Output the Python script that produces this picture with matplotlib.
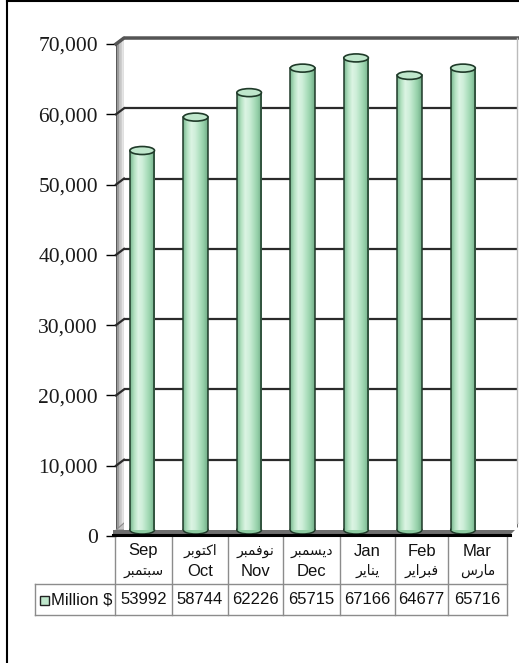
import numpy as np
import matplotlib as mpl
import matplotlib.pyplot as plt
from matplotlib.patches import Rectangle, Ellipse, Polygon
from matplotlib.colors import LinearSegmentedColormap
from matplotlib.transforms import ScaledTranslation

plt.rcParams['font.family'] = ['Liberation Serif', 'DejaVu Serif']

# data
months_en = ['Sep', 'Oct', 'Nov', 'Dec', 'Jan', 'Feb', 'Mar']
# arabic month names, written in presentation forms (visual order) so they join
months_ar = ['\ufeae\ufe92\ufee4\ufe98\ufe92\ufeb3',   # سبتمبر
             '\ufeae\ufe91\ufeee\ufe98\ufedb\ufe8d',   # اكتوبر
             '\ufeae\ufe92\ufee4\ufed3\ufeee\ufee7',   # نوفمبر
             '\ufeae\ufe92\ufee4\ufeb4\ufef3\ufea9',   # ديسمبر
             '\ufeae\ufef3\ufe8e\ufee8\ufef3',         # يناير
             '\ufeae\ufef3\ufe8d\ufeae\ufe92\ufed3',   # فبراير
             '\ufeb1\ufead\ufe8e\ufee3']               # مارس
arabic_first = [False, True, True, True, False, False, False]
values = [53992, 58744, 62226, 65715, 67166, 64677, 65716]
series_name = 'Million $'
yticks = [0, 10000, 20000, 30000, 40000, 50000, 60000, 70000]

W, H = 519, 663
fig = plt.figure(figsize=(W / 100, H / 100), dpi=100)

def fx(x):
  return x / W

def fy(y):
  return 1 - y / H

# back wall axes and front (tick) axes
aw, ah = (517 - 124) / W, (530 - 38) / H
ax = fig.add_axes([fx(124), fy(530), aw, ah], zorder=1)
axf = fig.add_axes([fx(116), fy(536), aw, ah], zorder=2)
xlim = (-0.415, 6.935)
for a in (ax, axf):
  a.set_xlim(*xlim)
  a.set_ylim(0, 70000)

ax.set_facecolor('white')
ax.set_xticks([])
ax.set_yticks([])
for s in ax.spines.values():
  s.set_visible(False)

axf.patch.set_visible(False)
axf.set_xticks([])
axf.set_yticks(yticks)
axf.yaxis.set_major_formatter(mpl.ticker.StrMethodFormatter('{x:,.0f}'))
axf.tick_params(axis='y', length=7, width=1, pad=6, color='black',
                labelsize=15.5, labelcolor='#1a1a1a')
for s in axf.spines.values():
  s.set_visible(False)

ftr = fig.transFigure

# left side wall (grey gradient strips)
wall_cols = ['#5a5a5a', '#9a9a9a', '#b8b8b8', '#cfcfcf', '#e0e0e0']
nw = len(wall_cols)
for i, c in enumerate(wall_cols):
  xa = 116 + 8 * i / nw
  xb = 116 + 8 * (i + 1) / nw
  ya_top = 44 - 6 * i / nw
  yb_top = 44 - 6 * (i + 1) / nw
  pts = [(fx(xa), fy(536 - 6 * i / nw)), (fx(xa), fy(ya_top)),
         (fx(xb), fy(yb_top)), (fx(xb), fy(536 - 6 * (i + 1) / nw))]
  fig.patches.append(Polygon(pts, closed=True, transform=ftr,
                             facecolor=c, edgecolor='none', zorder=0.5))

# gridlines on back wall plus their run over the side wall
for v in yticks[1:]:
  ax.axhline(v, color='#2b2b2b', lw=1.6, zorder=1)
  pb = fig.transFigure.inverted().transform(ax.transData.transform((xlim[0], v)))
  pf = fig.transFigure.inverted().transform(axf.transData.transform((xlim[0], v)))
  fig.lines.append(mpl.lines.Line2D([pf[0], pb[0]], [pf[1], pb[1]],
                                    transform=ftr, color='#2b2b2b', lw=1.6,
                                    zorder=3))

# wall top edge and right edge
fig.lines.append(mpl.lines.Line2D([fx(116), fx(124), fx(518)], [fy(44), fy(38), fy(38)],
                                  transform=ftr, color='#555555', lw=2.5, zorder=3))
fig.lines.append(mpl.lines.Line2D([fx(517), fx(517)], [fy(38), fy(523)],
                                  transform=ftr, color='#bbbbbb', lw=1, zorder=3))

# floor
floor = Polygon([(fx(116), fy(530)), (fx(124), fy(523)), (fx(518), fy(523)),
                 (fx(510), fy(530))], closed=True, transform=ftr,
                facecolor='#c4c4c4', edgecolor='#8a8a8a', lw=0.8, zorder=0.6)
fig.patches.append(floor)
floor_front = Polygon([(fx(113), fy(530)), (fx(510), fy(530)), (fx(518), fy(523)),
                       (fx(518), fy(527)), (fx(510), fy(535)), (fx(113), fy(535))],
                      closed=True, transform=ftr, facecolor='#6e6e6e',
                      edgecolor='none', zorder=0.6)
fig.patches.append(floor_front)
fig.lines.append(mpl.lines.Line2D([fx(113), fx(510)], [fy(535), fy(535)],
                                  transform=ftr, color='black', lw=2.2, zorder=3))

# cylinder bars
cyl = LinearSegmentedColormap.from_list(
  'cyl', ['#7ab991', '#b4e2c2', '#dcf4e4', '#cdeed8', '#b0e0c0', '#94cfa8', '#72ad88'])
grad = np.linspace(0, 1, 64).reshape(1, -1)
bw = 0.46
shift = ScaledTranslation(-4 / 100, 0, fig.dpi_scale_trans)
bar_tr = ax.transData + shift
px_per_unit = (ax.transData.transform((0, 10000))[1] - ax.transData.transform((0, 0))[1]) / 10000
eh = 8 / px_per_unit

for i, v in enumerate(values):
  x0 = i - bw / 2
  bottom = Ellipse((i, 0), bw, eh, transform=bar_tr, facecolor='#8ccaa0',
                   edgecolor='#1f3a29', lw=1.1, zorder=4, clip_on=False)
  ax.add_patch(bottom)
  im = ax.imshow(grad, cmap=cyl, aspect='auto', extent=[x0, x0 + bw, 0, v],
                 transform=bar_tr, zorder=5, interpolation='bilinear')
  body = Rectangle((x0, 0), bw, v, transform=bar_tr, facecolor='none',
                   edgecolor='none')
  ax.add_patch(body)
  im.set_clip_path(body)
  ax.plot([x0, x0], [0, v], color='#1f3a29', lw=1.1, transform=bar_tr, zorder=6)
  ax.plot([x0 + bw, x0 + bw], [0, v], color='#1f3a29', lw=1.1, transform=bar_tr, zorder=6)
  top = Ellipse((i, v), bw, eh, transform=bar_tr, facecolor='#bfe7cc',
                edgecolor='#1f3a29', lw=1.2, zorder=7)
  ax.add_patch(top)

ax.set_xlim(*xlim)
ax.set_ylim(0, 70000)

# data table below the chart
col_edges = [115, 172, 228, 283, 340, 395, 448, 507]
tcol = '#8c8c8c'
y_head_top, y_row_top, y_row_bot = 535, 584, 615
for xe in col_edges:
  fig.lines.append(mpl.lines.Line2D([fx(xe), fx(xe)], [fy(y_head_top), fy(y_row_bot)],
                                    transform=ftr, color=tcol, lw=1, zorder=2))
fig.lines.append(mpl.lines.Line2D([fx(35), fx(507)], [fy(y_row_top), fy(y_row_top)],
                                  transform=ftr, color=tcol, lw=1, zorder=2))
fig.lines.append(mpl.lines.Line2D([fx(35), fx(507)], [fy(y_row_bot), fy(y_row_bot)],
                                  transform=ftr, color=tcol, lw=1, zorder=2))
fig.lines.append(mpl.lines.Line2D([fx(35), fx(35)], [fy(y_row_top), fy(y_row_bot)],
                                  transform=ftr, color=tcol, lw=1, zorder=2))

fam = ['Liberation Sans', 'DejaVu Sans']
for i in range(len(months_en)):
  xc = fx((col_edges[i] + col_edges[i + 1]) / 2)
  if arabic_first[i]:
    top_txt, bot_txt = months_ar[i], months_en[i]
    top_size, bot_size = 10, 12
  else:
    top_txt, bot_txt = months_en[i], months_ar[i]
    top_size, bot_size = 12, 10
  fig.text(xc, fy(551), top_txt, ha='center', va='center', family=fam,
           fontsize=top_size, color='#111111')
  fig.text(xc, fy(571), bot_txt, ha='center', va='center', family=fam,
           fontsize=bot_size, color='#111111')
  fig.text(xc, fy(600), str(values[i]), ha='center', va='center',
           family='Liberation Sans', fontsize=12, color='#111111')

# legend key in the table
fig.patches.append(Rectangle((fx(40), fy(605)), 9 / W, 9 / H, transform=ftr,
                             facecolor='#bfe7cc', edgecolor='#222222', lw=1))
fig.text(fx(51), fy(600), series_name, ha='left', va='center',
         family='Liberation Sans', fontsize=12, color='#111111')

# outer frame
fig.lines.append(mpl.lines.Line2D([fx(7), fx(7)], [fy(1), 0], transform=ftr,
                                  color='black', lw=1.5))
fig.lines.append(mpl.lines.Line2D([fx(7), 1], [fy(1), fy(1)], transform=ftr,
                                  color='black', lw=1.5))

fig.savefig('out.png', dpi=100)
